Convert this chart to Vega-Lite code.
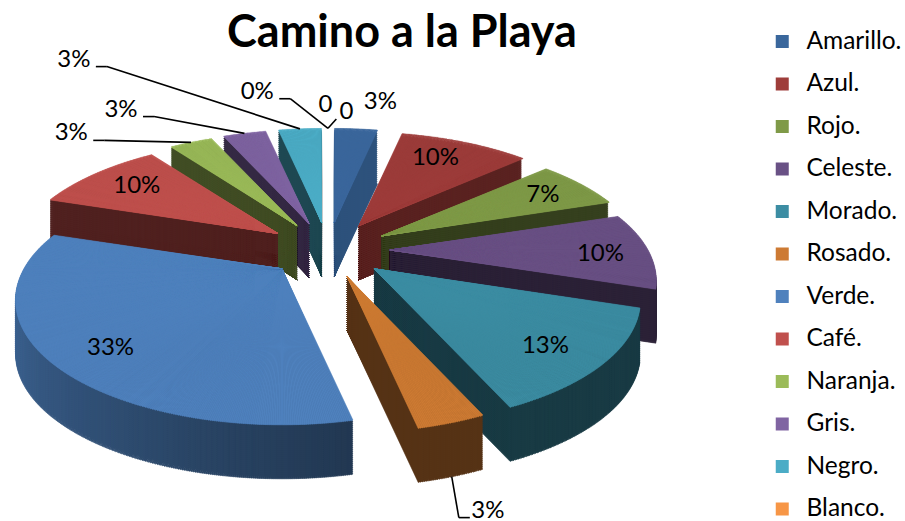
{
"$schema":"https://vega.github.io/schema/vega-lite/v6.json",
"width":905,"height":461,"autosize":"none","padding":{"top":60,"left":0,"right":0,"bottom":0},"background":"white",
"view":{"stroke":null},
"params":[{"name":"cx","value":328},{"name":"cy","value":190},{"name":"RA","value":258},{"name":"RB","value":117},{"name":"K","value":0.25},{"name":"EX","value":0.24},{"name":"H","value":54}],
"data":{"values":[
{"name":"Amarillo.","value":1,"label":"3%"},
{"name":"Azul.","value":3,"label":"10%"},
{"name":"Rojo.","value":2,"label":"7%"},
{"name":"Celeste.","value":3,"label":"10%"},
{"name":"Morado.","value":4,"label":"13%"},
{"name":"Rosado.","value":1,"label":"3%"},
{"name":"Verde.","value":10,"label":"33%"},
{"name":"Café.","value":3,"label":"10%"},
{"name":"Naranja.","value":1,"label":"3%"},
{"name":"Gris.","value":1,"label":"3%"},
{"name":"Negro.","value":1,"label":"3%"},
{"name":"Blanco.","value":0,"label":"0%"},
{"name":"(13)","value":0,"label":"0"},
{"name":"(14)","value":0,"label":"0"}
]},
"transform":[
{"window":[{"op":"sum","field":"value","as":"v1"}],"frame":[null,0],"ignorePeers":true},
{"calculate":"(datum.v1-datum.value)/30*2*PI","as":"a0"},
{"calculate":"datum.v1/30*2*PI","as":"a1"},
{"calculate":"(datum.a0+datum.a1)/2","as":"mid"},
{"calculate":"{'Amarillo.':[0.20,-1.24],'Azul.':[0.41,-0.77],'Rojo.':[0.82,-0.46],'Celeste.':[1.04,0.03],'Morado.':[0.83,0.81],'Rosado.':[0.61,2.19],'Verde.':[-0.83,0.82],'Café.':[-0.73,-0.54],'Naranja.':[-0.98,-0.98],'Gris.':[-0.79,-1.18],'Negro.':[-0.97,-1.60],'Blanco.':[-0.27,-1.33],'(13)':[-0.01,-1.22],'(14)':[0.07,-1.16]}[datum.name]","as":"lp"},
{"calculate":"cx+262*datum.lp[0]","as":"lx"},
{"calculate":"cy+119*datum.lp[1]","as":"ly"}
],
"layer":[
{
"transform":[
{"filter":"datum.value>0"},
{"calculate":"ceil((datum.a1-datum.a0)/(PI/540))","as":"n"},
{"calculate":"sequence(0,datum.n)","as":"ks"},
{"flatten":["ks"],"as":["k"]},
{"calculate":"datum.a0+(datum.a1-datum.a0)*datum.k/datum.n","as":"ka"},
{"calculate":"datum.a0+(datum.a1-datum.a0)*(datum.k+1)/datum.n","as":"kb"},
{"calculate":"datum.a0+(datum.a1-datum.a0)*min(datum.k+3,datum.n)/datum.n","as":"kc"},
{"calculate":"RA*sin(datum.ka)/(1+K*cos(datum.ka))","as":"xa"},
{"calculate":"-RB*cos(datum.ka)/(1+K*cos(datum.ka))","as":"ya"},
{"calculate":"RA*sin(datum.kb)/(1+K*cos(datum.kb))","as":"xb"},
{"calculate":"-RB*cos(datum.kb)/(1+K*cos(datum.kb))","as":"yb"},
{"calculate":"RA*sin(datum.kc)/(1+K*cos(datum.kc))","as":"xc"},
{"calculate":"-RB*cos(datum.kc)/(1+K*cos(datum.kc))","as":"yc"},
{"calculate":"atan2(datum.xa,-datum.ya)","as":"pa0"},
{"calculate":"datum.pa0<-0.000001?datum.pa0+2*PI:max(datum.pa0,0)","as":"pa"},
{"calculate":"atan2(datum.xb,-datum.yb)","as":"pb0"},
{"calculate":"datum.pb0<=datum.pa?datum.pb0+2*PI:datum.pb0","as":"pb"},
{"calculate":"atan2(datum.xc,-datum.yc)","as":"pc0"},
{"calculate":"datum.pc0<=datum.pa?datum.pc0+2*PI:datum.pc0","as":"pc"},
{"calculate":"(sqrt(datum.xa*datum.xa+datum.ya*datum.ya)+sqrt(datum.xb*datum.xb+datum.yb*datum.yb))/2","as":"r"},
{"calculate":"{'Amarillo.':'#3A679C','Azul.':'#9E3D3A','Rojo.':'#7F9A48','Celeste.':'#695185','Morado.':'#3C8DA3','Rosado.':'#CD7A33','Verde.':'#4F81BD','Café.':'#C0504D','Naranja.':'#9BBB59','Gris.':'#8064A2','Negro.':'#4BACC6'}[datum.name]","as":"base"},
{"calculate":"datum.name=='Verde.'?0.44+0.46*(datum.ka-datum.a0)/(datum.a1-datum.a0):datum.name=='Amarillo.'?0.8:datum.name=='Azul.'?0.58:0.42","as":"s"},
{"calculate":"'rgb('+floor(rgb(datum.base).r*datum.s)+','+floor(rgb(datum.base).g*datum.s)+','+floor(rgb(datum.base).b*datum.s)+')'","as":"side"},
{"calculate":"sequence(H,-1,-2)","as":"ds"},
{"flatten":["ds"],"as":["d"]},
{"filter":"datum.d==0||datum.d==H||datum.k%3==0"},
{"calculate":"(datum.d==0||datum.d==H)?datum.pb:datum.pc","as":"pe"},
{"calculate":"datum.d==0?datum.base:datum.side","as":"paint"},
{"calculate":"cx+EX*RA*sin(datum.mid)","as":"px"},
{"calculate":"cy-EX*RB*cos(datum.mid)+datum.d","as":"py"},
{"calculate":"round(-cos(datum.mid)*100)*1000+(100-datum.d)","as":"z"}
],
"mark":{"type":"arc","strokeWidth":0.6},
"encoding":{
"x":{"field":"px","type":"quantitative","scale":null,"axis":null},
"y":{"field":"py","type":"quantitative","scale":null,"axis":null},
"theta":{"field":"pa","type":"quantitative","scale":null,"stack":null},
"theta2":{"field":"pe"},
"radius":{"field":"r","type":"quantitative","scale":null},
"fill":{"field":"paint","type":"nominal","scale":null,"legend":null},
"stroke":{"field":"paint","type":"nominal","scale":null,"legend":null},
"order":{"field":"z","type":"quantitative"}
}
},
{
"transform":[
{"filter":"indexof(['Rosado.','Naranja.','Gris.','Negro.','Blanco.','(14)'],datum.name)>=0"},
{"calculate":"datum.name=='Rosado.'?-1:datum.name=='(14)'?-1:1","as":"sd"},
{"calculate":"datum.name=='(14)'?10:datum.name=='Rosado.'?18:22","as":"half"},
{"calculate":"datum.name=='(14)'?0:11","as":"elb"},
{"calculate":"datum.lx+datum.sd*datum.half","as":"sx"},
{"calculate":"datum.sx+datum.sd*datum.elb","as":"ex"},
{"calculate":"datum.ly+7","as":"sy"},
{"calculate":"1/(1+K*cos(datum.mid))","as":"f"},
{"calculate":"cx+EX*RA*sin(datum.mid)+RA*sin(datum.mid)*datum.f","as":"rx"},
{"calculate":"cy-EX*RB*cos(datum.mid)-RB*cos(datum.mid)*datum.f+(cos(datum.mid)<0?H:0)","as":"ry"}
],
"layer":[
{"mark":{"type":"rule","color":"#000000","strokeWidth":1.6},
"encoding":{"x":{"field":"sx","type":"quantitative","scale":null,"axis":null},"y":{"field":"sy","type":"quantitative","scale":null,"axis":null},"x2":{"field":"ex"},"y2":{"field":"sy"}}},
{"mark":{"type":"rule","color":"#000000","strokeWidth":1.6},
"encoding":{"x":{"field":"ex","type":"quantitative","scale":null,"axis":null},"y":{"field":"sy","type":"quantitative","scale":null,"axis":null},"x2":{"field":"rx"},"y2":{"field":"ry"}}}
]
},
{
"mark":{"type":"text","font":"Lato","fontSize":24,"color":"#000000","align":"center","baseline":"middle"},
"encoding":{
"x":{"field":"lx","type":"quantitative","scale":null,"axis":null},
"y":{"field":"ly","type":"quantitative","scale":null,"axis":null},
"text":{"field":"label","type":"nominal"}
}
},
{
"data":{"values":[{"titulo":"Camino a la Playa"}]},
"mark":{"type":"text","font":"Lato","fontSize":45,"fontWeight":"bold","color":"#000000","align":"center","baseline":"alphabetic"},
"encoding":{"x":{"value":402},"y":{"value":-13},"text":{"field":"titulo","type":"nominal"}}
},
{
"mark":{"type":"square","size":0},
"encoding":{
"color":{"field":"name","type":"nominal","sort":null,
"scale":{"domain":["Amarillo.","Azul.","Rojo.","Celeste.","Morado.","Rosado.","Verde.","Café.","Naranja.","Gris.","Negro.","Blanco."],
"range":["#3A679C","#9E3D3A","#7F9A48","#695185","#3C8DA3","#CD7A33","#4F81BD","#C0504D","#9BBB59","#8064A2","#4BACC6","#F79646"]},
"legend":{"title":null,"orient":"none","legendX":770,"legendY":-32,"symbolType":"square","symbolSize":169,"symbolOpacity":1,"symbolStrokeWidth":0,"labelFont":"Lato","labelFontSize":24.5,"labelColor":"#000000","labelOffset":12,"rowPadding":15.5,"labelLimit":200,"clipHeight":27}
}
}
}
]
}
